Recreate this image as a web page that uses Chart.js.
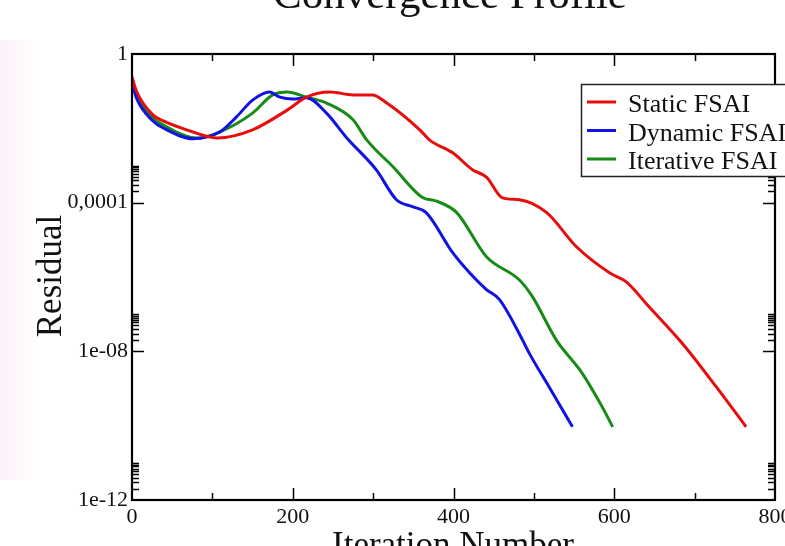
<!DOCTYPE html>
<html><head><meta charset="utf-8">
<script src="https://cdn.jsdelivr.net/npm/chart.js@4/dist/chart.umd.min.js"></script>
<style>
html,body{margin:0;padding:0;background:#fff;}
#wrap{position:relative;width:785px;height:546px;overflow:hidden;background:#fff;}
#pink{position:absolute;left:0;top:40px;width:36px;height:440px;
  background:linear-gradient(to right, rgba(255,228,246,0.55), rgba(255,255,255,0));}
canvas{display:block;position:relative;}
</style></head><body>
<div id="wrap"><div id="pink"></div><canvas id="c" width="785" height="546"></canvas></div>
<script>
// ---- data ----
const staticIter = [0, 6, 26, 39, 68, 106, 150, 193, 217, 246, 275, 299, 317, 358, 370, 399, 424, 441, 461, 482, 516, 553, 594, 615, 643, 684, 727, 764];
const staticRes  = [0.24, 0.095, 0.023, 0.0158, 0.00912, 0.0055, 0.00912, 0.0309, 0.0692, 0.0955, 0.0794, 0.0794, 0.0479, 0.00912, 0.0049, 0.00219, 7.6e-4, 4.9e-4, 1.35e-4, 1.2e-4, 5.4e-5, 6.5e-6, 1.3e-6, 7.4e-7, 1.6e-7, 1.7e-8, 1.1e-9, 9.3e-11];

const dynamicIter = [0, 6, 26, 39, 76, 109, 130, 150, 171, 184, 200, 217, 242, 267, 304, 329, 349, 366, 399, 420, 441, 457, 486, 494, 519, 548];
const dynamicRes  = [0.166, 0.0617, 0.0158, 0.0102, 0.00525, 0.00794, 0.0204, 0.0575, 0.0955, 0.0692, 0.0617, 0.0661, 0.0257, 0.0056, 7.6e-4, 1.2e-4, 7.8e-5, 5.4e-5, 4.5e-6, 1.3e-6, 4.6e-7, 2.5e-7, 2.0e-8, 9.1e-9, 1.1e-9, 9.3e-11];

const iterativeIter = [0, 6, 26, 39, 81, 109, 150, 175, 193, 217, 242, 275, 292, 325, 361, 379, 404, 441, 482, 498, 528, 560, 585, 598];
const iterativeRes  = [0.214, 0.0741, 0.019, 0.0123, 0.0055, 0.00794, 0.0257, 0.0794, 0.0955, 0.0692, 0.0479, 0.017, 0.0049, 9.1e-4, 1.4e-4, 1.1e-4, 5.4e-5, 3.5e-6, 8.3e-7, 3.0e-7, 2.0e-8, 2.6e-9, 3.2e-10, 9.3e-11];

const seriesNames  = ['Static FSAI', 'Dynamic FSAI', 'Iterative FSAI'];
const seriesColors = ['rgb(232,12,12)', 'rgb(18,18,228)', 'rgb(22,140,22)'];

const xTickValues = [0, 200, 400, 600, 800];
const yTickValues = [1e-12, 1e-8, 1e-4, 1];
const yTickLabels = ['1e-12', '1e-08', '0,0001', '1'];

const chartTitle = 'Convergence Profile';
const xTitle = 'Iteration Number';
const yTitle = 'Residual';

// ---- build ----
const toPts = (xs, ys) => xs.map((x, i) => ({x: x, y: ys[i]}));
const seriesData = [toPts(staticIter, staticRes), toPts(dynamicIter, dynamicRes), toPts(iterativeIter, iterativeRes)];

const serif = "'Liberation Serif', 'DejaVu Serif', serif";

const framePlugin = {
  id: 'frameTicks',
  afterDatasetsDraw(chart) {
    const {ctx, chartArea: a, scales: {x, y}} = chart;
    ctx.save();
    ctx.strokeStyle = '#000';
    ctx.lineWidth = 1.5;
    ctx.beginPath();
    for (let v = 100; v < 800; v += 100) {
      const px = Math.round(x.getPixelForValue(v)) + 0.5;
      const len = (v % 200 === 0) ? 12 : 7;
      ctx.moveTo(px, a.bottom); ctx.lineTo(px, a.bottom - len);
      ctx.moveTo(px, a.top); ctx.lineTo(px, a.top + len);
    }
    const majors = [1e-8, 1e-4];
    majors.forEach(v => {
      const py = Math.round(y.getPixelForValue(v)) + 0.5;
      ctx.moveTo(a.left, py); ctx.lineTo(a.left + 12, py);
      ctx.moveTo(a.right, py); ctx.lineTo(a.right - 12, py);
    });
    [1e-12, 1e-8, 1e-4].forEach(base => {
      for (let k = 2; k <= 10; k++) {
        const py = Math.round(y.getPixelForValue(base * k)) + 0.5;
        ctx.moveTo(a.left, py); ctx.lineTo(a.left + 7, py);
        ctx.moveTo(a.right, py); ctx.lineTo(a.right - 7, py);
      }
    });
    ctx.stroke();
    ctx.lineWidth = 2.2;
    ctx.strokeRect(a.left, a.top, a.right - a.left, a.bottom - a.top);

    // legend box
    ctx.lineWidth = 1.5;
    ctx.strokeStyle = '#222';
    ctx.fillStyle = '#fff';
    ctx.fillRect(581.5, 84.5, 230, 92);
    ctx.strokeRect(581.5, 84.5, 230, 92);
    ctx.font = '26px ' + serif;
    ctx.textAlign = 'left';
    ctx.textBaseline = 'alphabetic';
    seriesNames.forEach((n, i) => {
      const ly = 102 + i * 28.5;
      ctx.strokeStyle = seriesColors[i];
      ctx.lineWidth = 3;
      ctx.beginPath(); ctx.moveTo(587, ly); ctx.lineTo(616, ly); ctx.stroke();
      ctx.fillStyle = '#111';
      ctx.fillText(n, 628, ly + 10);
    });
    ctx.restore();
  },
  afterDraw(chart) {
    const {ctx} = chart;
    ctx.save();
    ctx.fillStyle = '#111';
    ctx.textAlign = 'center';
    ctx.textBaseline = 'alphabetic';
    ctx.font = '43px ' + serif;
    ctx.fillText(chartTitle, 450, 8);
    ctx.font = '35px ' + serif;
    ctx.fillText(xTitle, 453, 556);
    ctx.translate(61, 276);
    ctx.rotate(-Math.PI / 2);
    ctx.font = '35px ' + serif;
    ctx.fillText(yTitle, 0, 0);
    ctx.restore();
  }
};

new Chart(document.getElementById('c'), {
  type: 'line',
  data: {
    datasets: seriesData.map((d, i) => ({
      label: seriesNames[i],
      data: d,
      borderColor: seriesColors[i],
      backgroundColor: seriesColors[i],
      borderWidth: 3,
      pointRadius: 0,
      cubicInterpolationMode: 'monotone',
      fill: false
    }))
  },
  options: {
    responsive: false,
    animation: false,
    devicePixelRatio: 1,
    layout: {padding: {left: 0, right: 10, top: 54, bottom: 0}},
    plugins: {legend: {display: false}, title: {display: false}, tooltip: {enabled: false}},
    scales: {
      x: {
        type: 'linear', min: 0, max: 800,
        grid: {display: false, drawTicks: false},
        border: {display: false},
        afterBuildTicks: s => { s.ticks = xTickValues.map(v => ({value: v})); },
        ticks: {color: '#111', font: {family: serif, size: 22}, padding: 4, maxRotation: 0, autoSkip: false},
        afterFit: s => { s.height = 46; s.paddingLeft = 0; s.paddingRight = 0; }
      },
      y: {
        type: 'logarithmic', min: 1e-12, max: 1,
        grid: {display: false, drawTicks: false},
        border: {display: false},
        afterBuildTicks: s => { s.ticks = yTickValues.map(v => ({value: v})); },
        ticks: {
          color: '#111', font: {family: serif, size: 22}, padding: 4, autoSkip: false,
          callback: (v) => { const i = yTickValues.findIndex(t => Math.abs(Math.log10(t) - Math.log10(v)) < 1e-6); return i >= 0 ? yTickLabels[i] : ''; }
        },
        afterFit: s => { s.width = 132; s.paddingTop = 0; s.paddingBottom = 0; }
      }
    }
  },
  plugins: [framePlugin]
});
</script>
</body></html>
